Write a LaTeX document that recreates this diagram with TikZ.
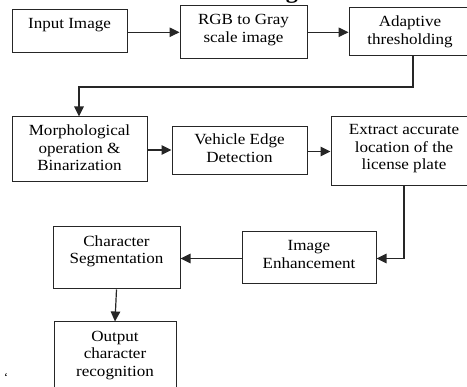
\documentclass[tikz,border=0pt]{standalone}
\usepackage{fontspec}
\setmainfont{Liberation Serif}[FakeStretch=1.1]
\usetikzlibrary{arrows.meta}
\begin{document}
\begin{tikzpicture}[x=1pt,y=-1pt,
  box/.style={draw=black!85, line width=1pt, fill=white},
  txt/.style={font=\fontsize{15.5}{17.5}\selectfont, align=center, inner sep=0pt, anchor=base},
  conn/.style={draw=black!85, line width=1.2pt, -{Triangle[length=10pt,width=9.5pt]}}]
\useasboundingbox (0,0) rectangle (467,387);
\clip (0,0) rectangle (467,387);
% title fragment
\node[font=\fontsize{22}{24}\selectfont\bfseries, inner sep=0pt, anchor=base] (title) at (292,-1.5) {g};
% boxes
\node[box, minimum width=115pt, minimum height=43pt] (in) at (69.5,31.5) {};
\node[box, minimum width=127pt, minimum height=53pt] (rgb) at (243.5,32.5) {};
\node[box, minimum width=126pt, minimum height=48pt] (ad) at (412,32) {};
\node[box, minimum width=135pt, minimum height=65pt] (mo) at (79.5,149.5) {};
\node[box, minimum width=135pt, minimum height=48pt] (ve) at (239.5,151) {};
\node[box, minimum width=144pt, minimum height=69pt] (ex) at (403,151.5) {};
\node[box, minimum width=127pt, minimum height=62pt] (cs) at (116.5,258) {};
\node[box, minimum width=134pt, minimum height=52pt] (ie) at (309,258) {};
\node[box, minimum width=122pt, minimum height=73pt] (ou) at (115,358.5) {};
% texts (anchor = baseline of last line)
\node[txt] (tin) at (69.5,29) {Input Image};
\node[txt] (trgb) at (243.5,42.5) {RGB to Gray\\scale image};
\node[txt] (tad) at (410,44.5) {Adaptive\\thresholding};
\node[txt] (tmo) at (79.5,171) {Morphological\\operation \&\\Binarization};
\node[txt] (tve) at (239.5,162.5) {Vehicle Edge\\Detection};
\node[txt] (tex) at (404,170) {Extract accurate\\location of the\\license plate};
\node[txt] (tcs) at (116.5,264) {Character\\Segmentation};
\node[txt] (tie) at (309,268.5) {Image\\Enhancement};
\node[txt] (tou) at (115,376.5) {Output\\character\\recognition};
\node[font=\fontsize{12}{12}\selectfont, inner sep=0pt] (tick) at (6,378) {`};
% connectors
\coordinate (c1) at (413,87);
\coordinate (c2) at (79,87);
\coordinate (c3) at (404,258.5);
\draw[conn] (in.east |- 0,32.3) -- (rgb.west |- 0,32.3);
\draw[conn] (rgb.east |- 0,32.3) -- (ad.west |- 0,32.3);
\draw[conn] (ad.south -| c1) -- (c1) -- (c2) -- (mo.north -| c2);
\draw[conn] (mo.east |- 0,150) -- (ve.west |- 0,150);
\draw[conn] (ve.east |- 0,151.5) -- (ex.west |- 0,151.5);
\draw[conn] (ex.south -| c3) -- (c3) -- (ie.east |- c3);
\draw[conn] (ie.west |- c3) -- (cs.east |- c3);
\draw[conn] (cs.south) -- (ou.north);
\end{tikzpicture}
\end{document}
